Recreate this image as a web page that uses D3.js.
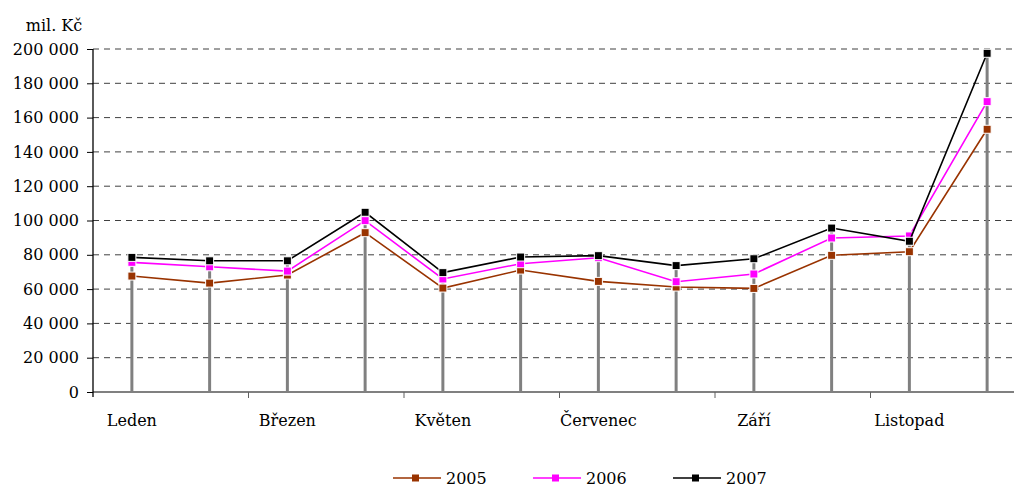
<!DOCTYPE html>
<html>
<head>
<meta charset="utf-8">
<script src="https://cdn.jsdelivr.net/npm/d3@7"></script>
<style>
  html, body { margin: 0; padding: 0; background: #fff; }
  svg { display: block; }
</style>
</head>
<body>
<svg id="chart" width="1014" height="488"></svg>
<script>
// Monthly amounts in mil. Kč
const months = ["Leden", "Únor", "Březen", "Duben", "Květen", "Červen",
                "Červenec", "Srpen", "Září", "Říjen", "Listopad", "Prosinec"];
const labelledMonths = ["Leden", "Březen", "Květen", "Červenec", "Září", "Listopad"];
const yTicks = [0, 20000, 40000, 60000, 80000, 100000, 120000, 140000, 160000, 180000, 200000];

const values2005 = [67600, 63500, 68200, 92900, 60600, 71100, 64500, 61200, 60400, 79700, 81800, 153200];
const values2006 = [75600, 73000, 70500, 99900, 65900, 74800, 78300, 64300, 68800, 89800, 91000, 169300];
const values2007 = [78500, 76500, 76500, 104800, 69600, 78700, 79500, 73700, 77700, 95600, 87900, 197500];

const seriesNames = ["2005", "2006", "2007"];
const seriesColors = ["#993300", "#ff00ff", "#000000"];
const series = [values2005, values2006, values2007];

const FONT = "DejaVu Serif, Liberation Serif, serif";
const FS = 16;

const svg = d3.select("#chart");
const plotLeft = 93, plotTop = 49, plotBottom = 392, plotRight = 1014;

const x = d3.scaleBand().domain(months).range([plotLeft, 1026]).paddingInner(0).paddingOuter(0);
const cx = m => x(m) + x.bandwidth() / 2;
const y = d3.scaleLinear().domain([0, 200000]).range([plotBottom, plotTop]);

const fmt = v => d3.format(",")(v).replace(/,/g, "\u00a0");

// Dashed horizontal gridlines
svg.append("g")
  .selectAll("line")
  .data(yTicks.filter(t => t > 0))
  .join("line")
  .attr("x1", plotLeft).attr("x2", plotRight)
  .attr("y1", d => y(d)).attr("y2", d => y(d))
  .attr("stroke", "#404040").attr("stroke-width", 1)
  .attr("stroke-dasharray", "6,5");

// Drop lines from each month's highest value to the axis
svg.append("g")
  .selectAll("line")
  .data(months.map((m, i) => ({ m, v: d3.max(series, s => s[i]) })))
  .join("line")
  .attr("x1", d => cx(d.m)).attr("x2", d => cx(d.m))
  .attr("y1", d => y(d.v)).attr("y2", y(0))
  .attr("stroke", "#808080").attr("stroke-width", 3);

// X axis (category) line and tick marks between pairs of months
const xAxis = d3.axisBottom(x)
  .tickValues([])
  .tickSizeOuter(0);
const xg = svg.append("g").attr("transform", `translate(0,${plotBottom})`).call(xAxis);
xg.select(".domain").attr("stroke", "#808080").attr("stroke-width", 2)
  .attr("d", `M${plotLeft},0H${plotRight}`);
xg.selectAll(".sep")
  .data(months.filter((m, i) => i % 2 === 0 && i > 0))
  .join("line")
  .attr("class", "sep")
  .attr("x1", d => x(d)).attr("x2", d => x(d))
  .attr("y1", 0).attr("y2", 6)
  .attr("stroke", "#606060").attr("stroke-width", 1);

// Category labels
svg.append("g")
  .selectAll("text")
  .data(labelledMonths)
  .join("text")
  .attr("x", d => cx(d))
  .attr("y", 426)
  .attr("text-anchor", "middle")
  .attr("font-family", FONT)
  .attr("font-size", FS)
  .text(d => d);

// Y axis
const yAxis = d3.axisLeft(y).tickValues(yTicks).tickSize(6).tickSizeOuter(0).tickFormat(fmt);
const yg = svg.append("g").attr("transform", `translate(${plotLeft},0)`).call(yAxis);
yg.attr("font-family", FONT).attr("font-size", FS);
yg.select(".domain").attr("stroke", "#000").attr("stroke-width", 1.3)
  .attr("d", `M0,${plotTop}V${plotBottom + 5}`);
yg.selectAll(".tick line").attr("stroke", "#000");
yg.selectAll(".tick text").attr("fill", "#000").attr("x", -14);

svg.append("text")
  .attr("x", 54).attr("y", 31)
  .attr("text-anchor", "middle")
  .attr("font-family", FONT)
  .attr("font-size", FS)
  .text("mil. Kč");

// Lines and square markers
const line = d3.line().x((d, i) => cx(months[i])).y(d => y(d));
series.forEach((s, k) => {
  const g = svg.append("g");
  g.append("path")
    .datum(s)
    .attr("d", line)
    .attr("fill", "none")
    .attr("stroke", seriesColors[k])
    .attr("stroke-width", 1.6);
  g.selectAll("rect")
    .data(s)
    .join("rect")
    .attr("x", (d, i) => cx(months[i]) - 4)
    .attr("y", d => y(d) - 4)
    .attr("width", 8).attr("height", 8)
    .attr("fill", seriesColors[k])
    .attr("stroke", "#fff").attr("stroke-width", 1);
});

// Legend
const legendX = [393, 533, 673];
const ly = 478;
const lg = svg.append("g");
seriesNames.forEach((name, k) => {
  const g = lg.append("g").attr("transform", `translate(${legendX[k]},${ly})`);
  g.append("line").attr("x1", 0).attr("x2", 48).attr("y1", 0).attr("y2", 0)
    .attr("stroke", seriesColors[k]).attr("stroke-width", 1.6);
  g.append("rect").attr("x", 19).attr("y", -3.5).attr("width", 7).attr("height", 7)
    .attr("fill", seriesColors[k]);
  g.append("text").attr("x", 53).attr("y", 6)
    .attr("font-family", FONT)
    .attr("font-size", FS).text(name);
});
</script>
</body>
</html>
